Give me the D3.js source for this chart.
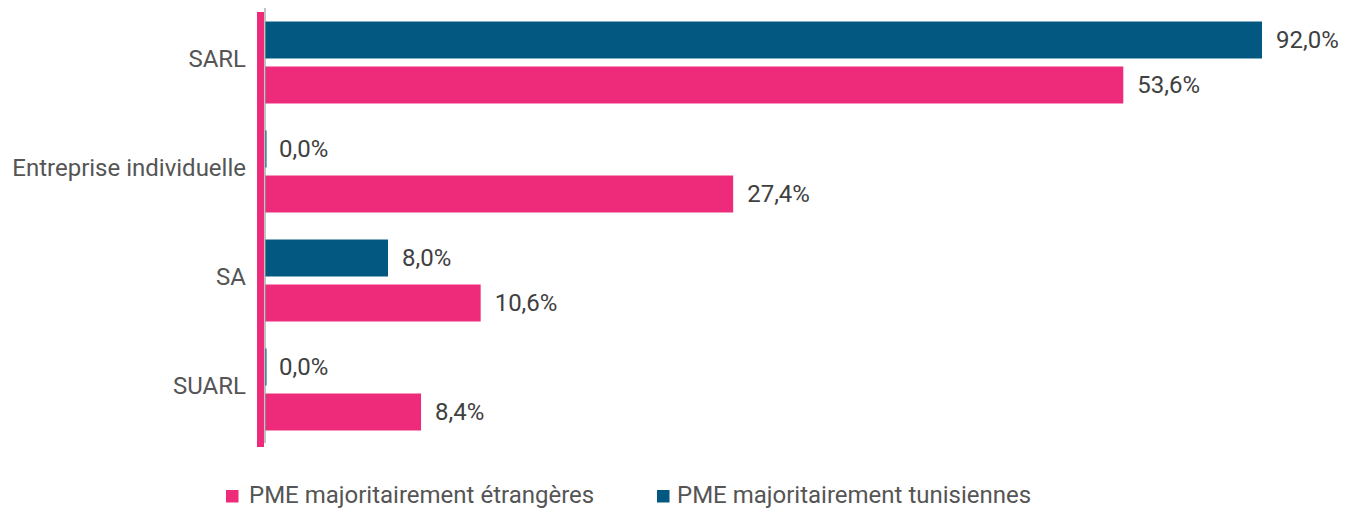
<!DOCTYPE html>
<html><head><meta charset="utf-8">
<script src="https://cdn.jsdelivr.net/npm/d3@7"></script>
<style>body{margin:0;background:#fff}svg{display:block;font-family:Roboto,sans-serif}</style>
</head><body><svg id="c" width="1355" height="510"></svg>
<script>
const categories = ["SARL", "Entreprise individuelle", "SA", "SUARL"];
const seriesNames = ["PME majoritairement tunisiennes", "PME majoritairement étrangères"];
// bar lengths as drawn in the picture (same scale as the 92,0% bar)
const tunisiennesBar = [92.0, 0.0, 11.35, 0.0];
const etrangeresBar = [79.2, 43.2, 19.9, 14.4];
// value labels printed in the picture
const tunisiennesLabels = ["92,0%", "0,0%", "8,0%", "0,0%"];
const etrangeresLabels = ["53,6%", "27,4%", "10,6%", "8,4%"];
const legendOrder = ["PME majoritairement étrangères", "PME majoritairement tunisiennes"];

const colors = {"PME majoritairement tunisiennes": "#035882", "PME majoritairement étrangères": "#EE2A7B"};
const svg = d3.select("#c");
const x0 = 265;
const x = d3.scaleLinear().domain([0, 92]).range([x0, 1262]);
const y = d3.scaleBand().domain(categories).range([8, 444]).paddingInner(0.248).paddingOuter(0.124);
const ySub = d3.scaleBand().domain(seriesNames).range([0, y.bandwidth()]).paddingInner(0.178);

const rows = [];
categories.forEach((c, i) => {
  rows.push({cat: c, s: seriesNames[0], v: tunisiennesBar[i], label: tunisiennesLabels[i]});
  rows.push({cat: c, s: seriesNames[1], v: etrangeresBar[i], label: etrangeresLabels[i]});
});

svg.append("g").selectAll("rect").data(rows).join("rect")
  .attr("x", x0)
  .attr("y", d => y(d.cat) + ySub(d.s))
  .attr("height", ySub.bandwidth())
  .attr("width", d => Math.max(1.5, x(d.v) - x0))
  .attr("fill", d => colors[d.s]);

svg.append("g").selectAll("text").data(rows).join("text")
  .attr("x", d => x(d.v) + 14)
  .attr("y", d => y(d.cat) + ySub(d.s) + ySub.bandwidth() / 2)
  .attr("dy", "0.35em")
  .attr("font-size", 24)
  .attr("fill", "#404040")
  .text(d => d.label);

// axis line
svg.append("line").attr("x1", x0).attr("x2", x0).attr("y1", 8).attr("y2", 443)
  .attr("stroke", "#999").attr("stroke-opacity", 0.6).attr("stroke-width", 2);
// pink accent bar
svg.append("rect").attr("x", 257).attr("y", 12).attr("width", 7).attr("height", 435).attr("fill", "#EE2A7B");

// category labels
const yAxis = d3.axisLeft(y).tickSize(0).tickPadding(0);
const ga = svg.append("g").attr("transform", "translate(246,-3.5)").call(yAxis);
ga.select(".domain").remove();
ga.selectAll("text").attr("font-size", 24).attr("fill", "#555").attr("font-family", "Roboto, sans-serif");

// legend
const lx = [226, 657];
const lg = svg.append("g").selectAll("g").data(legendOrder).join("g")
  .attr("transform", (d, i) => `translate(${lx[i]},490)`);
lg.append("rect").attr("width", 12.5).attr("height", 12.5).attr("fill", d => colors[d]);
lg.append("text").attr("x", (d, i) => i === 0 ? 23 : 20).attr("y", 13).attr("font-size", 24)
  .attr("fill", "#555").text(d => d);
</script></body></html>
